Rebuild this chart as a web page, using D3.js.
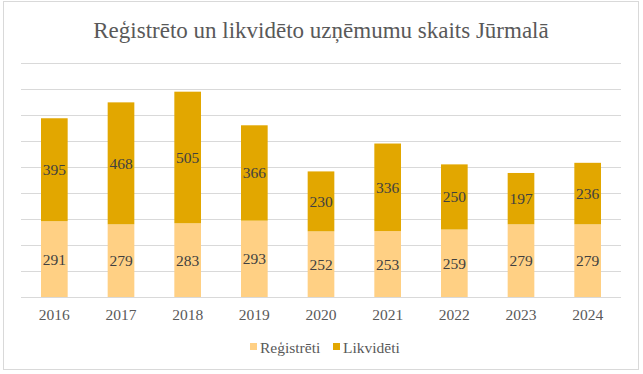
<!DOCTYPE html>
<html>
<head>
<meta charset="utf-8">
<script src="https://cdn.jsdelivr.net/npm/d3@7"></script>
<style>
  html, body { margin: 0; padding: 0; background: #fff; }
  svg { display: block; }
</style>
</head>
<body>
<svg id="chart" width="643" height="374"></svg>
<script>
const years = ['2016', '2017', '2018', '2019', '2020', '2021', '2022', '2023', '2024'];
const registreti = [291, 279, 283, 293, 252, 253, 259, 279, 279];
const likvideti = [395, 468, 505, 366, 230, 336, 250, 197, 236];
const seriesNames = ['Reģistrēti', 'Likvidēti'];
const seriesColors = ['#FFD084', '#E2A700'];
const yTicks = [0, 100, 200, 300, 400, 500, 600, 700, 800, 900];

const FONT = 'serif'; // named serif families fall back to sans here, generic works
const svg = d3.select('#chart');
const W = 643;
const m = { r: 22, l: 21 };

// chart frame
svg.append('rect')
  .attr('x', 3.5).attr('y', 1.5).attr('width', 635).attr('height', 368)
  .attr('fill', '#fff').attr('stroke', '#D9D9D9').attr('stroke-width', 1);

svg.append('text')
  .attr('x', 321).attr('y', 38).attr('font-family', FONT)
  .attr('text-anchor', 'middle').attr('font-size', 23).attr('fill', '#595959')
  .text('Reģistrēto un likvidēto uzņēmumu skaits Jūrmalā');

const x = d3.scaleBand().domain(years).range([m.l, W - m.r]).paddingInner(0.6).paddingOuter(0.3);
const y = d3.scaleLinear().domain([0, 900]).range([297, 62.5]);

const g = svg.append('g');

// gridlines
g.append('g').selectAll('line').data(yTicks).join('line')
  .attr('x1', m.l).attr('x2', W - m.r)
  .attr('y1', d => Math.round(y(d)) + 0.5).attr('y2', d => Math.round(y(d)) + 0.5)
  .attr('stroke', '#D9D9D9').attr('stroke-width', 1);

const table = years.map((yr, i) => ({ year: yr, registreti: registreti[i], likvideti: likvideti[i] }));
const stacked = d3.stack().keys(['registreti', 'likvideti'])(table);

const layers = g.selectAll('.layer').data(stacked).join('g')
  .attr('class', 'layer')
  .attr('fill', (d, i) => seriesColors[i]);

layers.selectAll('rect').data(d => d).join('rect')
  .attr('x', d => x(d.data.year))
  .attr('y', d => y(d[1]))
  .attr('width', x.bandwidth())
  .attr('height', d => y(d[0]) - y(d[1]));

layers.selectAll('text').data(d => d).join('text')
  .attr('x', d => x(d.data.year) + x.bandwidth() / 2)
  .attr('y', d => (y(d[0]) + y(d[1])) / 2 + 5.5)
  .attr('font-family', FONT)
  .attr('text-anchor', 'middle').attr('font-size', 15.5).attr('fill', '#404040')
  .text(d => d[1] - d[0]);

// x axis labels
g.append('g').selectAll('text').data(years).join('text')
  .attr('x', d => x(d) + x.bandwidth() / 2).attr('y', 320)
  .attr('font-family', FONT)
  .attr('text-anchor', 'middle').attr('font-size', 15.5).attr('fill', '#595959')
  .text(d => d);

// legend
const legendX = [250, 333];
const leg = svg.append('g').selectAll('g').data(seriesNames).join('g')
  .attr('transform', (d, i) => `translate(${legendX[i]},343)`);
leg.append('rect').attr('width', 7).attr('height', 7).attr('fill', (d, i) => seriesColors[i]);
leg.append('text').attr('x', 10).attr('y', 9.5)
  .attr('font-family', FONT)
  .attr('font-size', 15.5).attr('fill', '#595959')
  .text(d => d);
</script>
</body>
</html>
